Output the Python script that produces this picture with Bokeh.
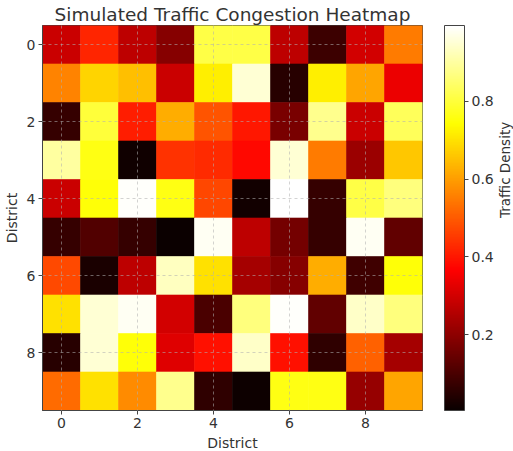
import numpy as np
from bokeh.plotting import figure
from bokeh.models import (LinearColorMapper, ColorBar, FixedTicker, Range1d,
                          ColumnDataSource, Title, LinearAxis)
from bokeh.embed import file_html
from bokeh.resources import INLINE

title_text = "Simulated Traffic Congestion Heatmap"
x_label = "District"
y_label = "District"
cbar_label = "Traffic Density"
tick_vals = [0, 2, 4, 6, 8]
cbar_ticks = [0.2, 0.4, 0.6, 0.8]

row0 = [0.29, 0.42, 0.27, 0.19, 0.81, 0.81, 0.27, 0.08, 0.30, 0.55]
row1 = [0.56, 0.68, 0.65, 0.29, 0.72, 0.95, 0.05, 0.72, 0.61, 0.34]
row2 = [0.07, 0.80, 0.41, 0.62, 0.49, 0.40, 0.17, 0.88, 0.29, 0.83]
row3 = [0.90, 0.76, 0.015, 0.44, 0.43, 0.38, 0.95, 0.55, 0.22, 0.66]
row4 = [0.29, 0.75, 0.99, 0.76, 0.47, 0.02, 0.995, 0.07, 0.81, 0.865]
row5 = [0.07, 0.11, 0.07, 0.005, 0.98, 0.27, 0.16, 0.07, 0.98, 0.135]
row6 = [0.475, 0.03, 0.27, 0.93, 0.70, 0.235, 0.19, 0.62, 0.085, 0.75]
row7 = [0.70, 0.95, 0.98, 0.30, 0.10, 0.865, 0.99, 0.135, 0.94, 0.865]
row8 = [0.05, 0.95, 0.75, 0.32, 0.39, 0.94, 0.39, 0.06, 0.51, 0.235]
row9 = [0.525, 0.70, 0.57, 0.88, 0.06, 0.01, 0.76, 0.76, 0.21, 0.61]

grid = np.array([row0, row1, row2, row3, row4, row5, row6, row7, row8, row9])


def hot_palette(n=256):
    cols = []
    for i in range(n):
        t = i / (n - 1)
        r = min(1.0, 0.0416 + t / 0.365079 * (1 - 0.0416))
        g = 0.0 if t < 0.365079 else min(1.0, (t - 0.365079) / (0.746032 - 0.365079))
        b = 0.0 if t < 0.746032 else min(1.0, (t - 0.746032) / (1 - 0.746032))
        cols.append("#%02x%02x%02x" % (int(round(r * 255)), int(round(g * 255)), int(round(b * 255))))
    return cols


palette = hot_palette()
mapper = LinearColorMapper(palette=palette, low=float(grid.min()), high=float(grid.max()))

nrows, ncols = grid.shape
xs, ys, vals = [], [], []
for r in range(nrows):
    for c in range(ncols):
        xs.append(c)
        ys.append(r)
        vals.append(float(grid[r, c]))
src = ColumnDataSource(dict(x=xs, y=ys, v=vals))

FONT = "DejaVu Sans"
TXT = "#333333"

p = figure(frame_width=380, frame_height=385,
           x_range=Range1d(-0.5, ncols - 0.5), y_range=Range1d(nrows - 0.5, -0.5),
           output_backend="svg", toolbar_location=None,
           min_border_left=5, min_border_right=0, min_border_top=0, min_border_bottom=0)

p.rect(x="x", y="y", width=1, height=1, source=src,
       fill_color={"field": "v", "transform": mapper},
       line_color={"field": "v", "transform": mapper}, line_width=0.6)

p.title.text = title_text
p.title.text_font = FONT
p.title.text_font_size = "18.5px"
p.title.text_font_style = "normal"
p.title.text_color = TXT
p.title.align = "center"
p.title.standoff = 2

for ax in (p.xaxis[0], p.yaxis[0]):
    ax.ticker = FixedTicker(ticks=tick_vals)
    ax.minor_tick_line_color = None
    ax.major_tick_in = 0
    ax.major_tick_out = 4
    ax.major_label_text_font = FONT
    ax.major_label_text_font_size = "14px"
    ax.major_label_text_color = TXT
    ax.axis_label_text_font = FONT
    ax.axis_label_text_font_size = "14px"
    ax.axis_label_text_font_style = "normal"
    ax.axis_label_text_color = TXT
    ax.axis_line_color = "#444444"
    ax.major_tick_line_color = "#444444"
    ax.axis_label_standoff = 4
    ax.major_label_standoff = 3
p.xaxis.axis_label = x_label
p.yaxis.axis_label = y_label

p.outline_line_color = "#444444"
p.outline_line_width = 1

for g in (p.xgrid[0], p.ygrid[0]):
    g.ticker = FixedTicker(ticks=tick_vals)
    g.grid_line_color = "#b0b0b0"
    g.grid_line_alpha = 0.7
    g.grid_line_dash = "3 3"
    g.grid_line_width = 0.8
    g.level = "overlay"

# spacer between frame and colour bar
p.add_layout(Title(text=" ", text_font_size="18px", standoff=0), "right")

cbar = ColorBar(color_mapper=mapper, ticker=FixedTicker(ticks=cbar_ticks),
                width=20, padding=0,
                major_tick_in=0, major_tick_out=4, major_tick_line_color="#444444",
                major_label_text_font=FONT, major_label_text_font_size="14px",
                major_label_text_color=TXT, label_standoff=3,
                bar_line_color="#444444", bar_line_width=1,
                background_fill_color=None, border_line_color=None)
p.add_layout(cbar, "right")

lab_axis = LinearAxis(axis_label=cbar_label, ticker=FixedTicker(ticks=[]),
                      axis_line_color=None, major_tick_line_color=None,
                      minor_tick_line_color=None, major_label_text_font_size="0px",
                      axis_label_text_font=FONT, axis_label_text_font_size="13.5px",
                      axis_label_text_font_style="normal", axis_label_text_color=TXT,
                      axis_label_text_align="center",
                      axis_label_standoff=8, axis_label_orientation=np.pi / 2)
p.add_layout(lab_axis, "right")

open("out.html", "w").write(file_html(p, INLINE))
